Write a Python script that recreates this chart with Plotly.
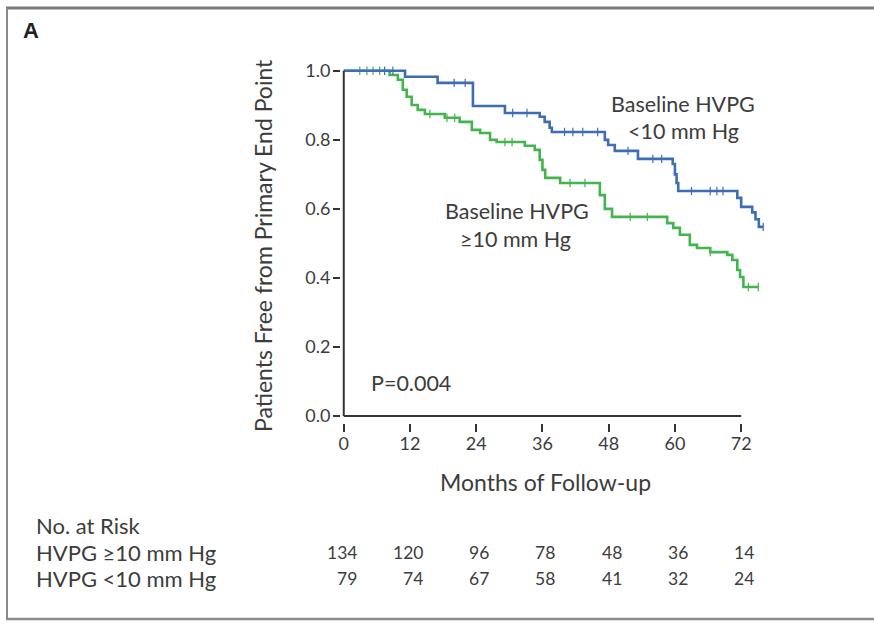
import plotly.graph_objects as go

# ---- data ----
months_ticks = [0, 12, 24, 36, 48, 60, 72]
y_ticks = [0.0, 0.2, 0.4, 0.6, 0.8, 1.0]

# HVPG <10 mm Hg (blue)
low_t = [0, 11.1, 17.0, 23.4, 29.2, 35.5, 36.4, 37.3, 37.7, 47.3, 47.9, 49.1, 53.3,
         59.6, 60.0, 60.3, 60.6, 71.3, 72.0, 74.0, 74.6, 75.2]
low_s = [1.0, 0.983, 0.965, 0.898, 0.878, 0.867, 0.852, 0.835, 0.823, 0.80, 0.785, 0.768, 0.745,
         0.73, 0.70, 0.675, 0.652, 0.632, 0.606, 0.59, 0.57, 0.548]
low_end = 76.0
low_cens = [7.4, 8.9, 20.0, 22.0, 30.6, 33.2, 40.0, 41.5, 43.3, 46.0, 51.5, 56.0, 57.6,
            63.0, 66.4, 67.6, 68.7, 76.0]

# HVPG >=10 mm Hg (green)
high_t = [0, 8.3, 9.8, 10.7, 11.4, 12.3, 13.4, 14.7, 18.3, 21.0, 23.2, 24.7, 26.5, 27.7,
          32.8, 34.6, 35.5, 36.0, 36.5, 39.2, 46.4, 47.3, 48.6, 58.6, 59.7, 60.9, 62.7,
          64.0, 66.4, 69.5, 70.4, 71.3, 71.8, 72.4]
high_s = [1.0, 0.988, 0.974, 0.945, 0.925, 0.901, 0.887, 0.875, 0.864, 0.852, 0.829, 0.82,
          0.80, 0.794, 0.783, 0.771, 0.742, 0.713, 0.69, 0.675, 0.64, 0.60, 0.577, 0.559,
          0.545, 0.525, 0.496, 0.487, 0.475, 0.467, 0.452, 0.423, 0.403, 0.374]
high_end = 75.1
high_cens = [2.9, 4.2, 5.3, 6.5, 15.6, 18.7, 20.1, 29.2, 30.5, 41.0, 43.7, 51.9, 55.0,
             66.4, 73.3, 75.1]

risk_high = [134, 120, 96, 78, 48, 36, 14]
risk_low = [79, 74, 67, 58, 41, 32, 24]

BLUE = "#3f6db5"
GREEN = "#44b451"
TXT = "#3c3c3c"
FONT = "Lato"

# ---- geometry helpers (pixel -> paper) ----
W_FIG, H_FIG = 874, 626
L, T, W, H = 341, 57, 425, 366
def px(x): return (x - L) / W
def py(y): return (T + H - y) / H


def step_xy(t, s, end):
    xs, ys = [], []
    for i in range(len(t)):
        if i > 0:
            xs.append(t[i]); ys.append(s[i - 1])
        xs.append(t[i]); ys.append(s[i])
    xs.append(end); ys.append(s[-1])
    return xs, ys


def surv_at(t, s, x):
    v = s[0]
    for ti, si in zip(t, s):
        if ti <= x:
            v = si
    return v


fig = go.Figure()
for t, s, end, cens, col in [(high_t, high_s, high_end, high_cens, GREEN),
                             (low_t, low_s, low_end, low_cens, BLUE)]:
    xs, ys = step_xy(t, s, end)
    fig.add_trace(go.Scatter(x=xs, y=ys, mode="lines",
                             line=dict(color=col, width=2.6),
                             hoverinfo="skip", showlegend=False))
    fig.add_trace(go.Scatter(x=cens, y=[surv_at(t, s, c) for c in cens], mode="markers",
                             marker=dict(symbol="line-ns", size=6,
                                         line=dict(color=col, width=1.2)),
                             hoverinfo="skip", showlegend=False))

ann = []
def text(x, y, s, size=16, xanchor="center", xref="paper", **kw):
    ann.append(dict(x=x, y=y, xref=xref, yref="paper", text=s,
                    showarrow=False, xanchor=xanchor, yanchor="middle",
                    font=dict(family=FONT, size=size, color=TXT), **kw))

ann.append(dict(x=px(31), y=py(31), xref="paper", yref="paper", text="<b>A</b>",
                showarrow=False, xanchor="center", yanchor="middle",
                font=dict(family="Liberation Sans", size=22, color="#222")))
text(px(263), py(246), "Patients Free from Primary End Point", size=23, textangle=-90)
text(px(545), py(482), "Months of Follow-up", size=23)
text(px(683), py(104), "Baseline HVPG", size=21.5)
text(px(683), py(131), "&lt;10 mm Hg", size=21.5)
text(px(517), py(211), "Baseline HVPG", size=21.5)
text(px(515), py(239), "≥10 mm Hg", size=21.5)
text(px(369), py(383), "P=0.004", size=21.5, xanchor="left")
text(px(34), py(525), "No. at Risk", size=22, xanchor="left")
text(px(34), py(552), "HVPG ≥10 mm Hg", size=22, xanchor="left")
text(px(34), py(578), "HVPG &lt;10 mm Hg", size=22, xanchor="left")
for m, a, b in zip(months_ticks, risk_high, risk_low):
    text(m + 2.7, py(552), str(a), size=17.5, xanchor="right", xref="x")
    text(m + 2.7, py(578), str(b), size=17.5, xanchor="right", xref="x")

shapes = [
    dict(type="line", xref="x", yref="y", x0=0, x1=72, y0=0, y1=0,
         line=dict(color="#333", width=2)),
    dict(type="line", xref="x", yref="y", x0=0, x1=0, y0=0, y1=1.0,
         line=dict(color="#333", width=2)),
    dict(type="line", xref="paper", yref="paper", x0=px(6), x1=px(874), y0=py(8), y1=py(8),
         line=dict(color="#7a7a7a", width=3)),
    dict(type="line", xref="paper", yref="paper", x0=px(7), x1=px(7), y0=py(8), y1=py(619),
         line=dict(color="#8a8a8a", width=2)),
    dict(type="line", xref="paper", yref="paper", x0=px(6), x1=px(874), y0=py(619), y1=py(619),
         line=dict(color="#8a8a8a", width=2.5)),
]

fig.update_layout(
    width=W_FIG, height=H_FIG, autosize=False,
    margin=dict(l=L, r=W_FIG - L - W, t=T, b=H_FIG - T - H, pad=0),
    paper_bgcolor="white", plot_bgcolor="white",
    xaxis=dict(range=[-0.5, 76.5], tickvals=months_ticks, ticks="outside", ticklen=8,
               tickwidth=1.8, tickcolor="#333", showgrid=False, zeroline=False,
               showline=False, ticklabelstandoff=-4,
               tickfont=dict(family=FONT, size=18, color=TXT)),
    yaxis=dict(range=[-0.02, 1.04], tickvals=y_ticks, tickformat=".1f", ticks="outside",
               ticklen=7, tickwidth=1.8, tickcolor="#333", showgrid=False, zeroline=False,
               showline=False, ticklabelstandoff=-1,
               tickfont=dict(family=FONT, size=18, color=TXT)),
    annotations=ann, shapes=shapes,
)
fig.write_html("out.html", config={"displayModeBar": False},
               post_script="document.body.style.margin='0';document.body.style.overflow='hidden';")
